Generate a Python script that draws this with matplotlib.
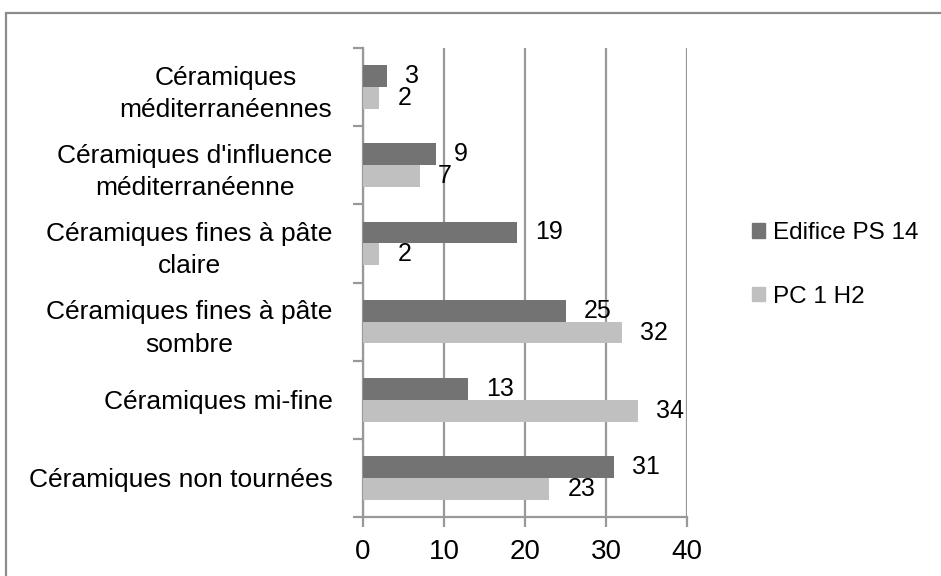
import numpy as np
import matplotlib.pyplot as plt
from matplotlib.patches import Rectangle, Patch

plt.rcParams['font.family'] = ['Liberation Sans', 'DejaVu Sans']

# categories listed bottom to top
categories = [
    "Céramiques non tournées",
    "Céramiques mi-fine",
    "Céramiques fines à pâte\nsombre",
    "Céramiques fines à pâte\nclaire",
    "Céramiques d'influence\nméditerranéenne",
    "Céramiques\nméditerranéennes",
]
edifice_ps14 = [31, 13, 25, 19, 9, 3]
pc1_h2 = [23, 34, 32, 2, 7, 2]
series_names = ["Edifice PS 14", "PC 1 H2"]

dark = '#737373'
light = '#c0c0c0'
line_gray = '#999999'

fig = plt.figure(figsize=(9.41, 5.76), dpi=100)
ax = fig.add_axes([363 / 941, 59 / 576, 324 / 941, 469 / 576])

y = np.arange(len(categories))
h = 0.28
b1 = ax.barh(y + h / 2, edifice_ps14, height=h, color=dark, zorder=3)
b2 = ax.barh(y - h / 2, pc1_h2, height=h, color=light, zorder=3)
ax.bar_label(b1, padding=13, fontsize=18)
ax.bar_label(b2, padding=13, fontsize=18)

ax.set_xlim(0, 40)
ax.set_ylim(-0.5, len(categories) - 0.5)
ax.set_xticks([0, 10, 20, 30, 40])
ax.grid(axis='x', color=line_gray, lw=1.6, zorder=0)

# labels at category centres, tick marks at the boundaries
ax.set_yticks(y)
ax.set_yticklabels(categories, fontsize=19, multialignment='center',
                   linespacing=1.45)
ax.set_yticks(np.arange(-0.5, len(categories)), minor=True)
ax.tick_params(axis='y', which='major', length=0, pad=22)
ax.tick_params(axis='y', which='minor', length=7, width=1.6, color=line_gray)
ax.tick_params(axis='x', length=7, width=1.6, color=line_gray, labelsize=20, pad=9)

for side in ['top', 'right']:
    ax.spines[side].set_visible(False)
for side in ['left', 'bottom']:
    ax.spines[side].set_color(line_gray)
    ax.spines[side].set_linewidth(1.6)

handles = [Patch(color=dark), Patch(color=light)]
fig.legend(handles, series_names, loc='center left',
           bbox_to_anchor=(752 / 941, 1 - 265 / 576), frameon=False,
           fontsize=17.5, handlelength=0.55, handleheight=0.55,
           handletextpad=0.3, labelspacing=1.7, borderpad=0, borderaxespad=0)

# outer chart border
fig.patches.append(Rectangle((6 / 941, -0.1), 1.2, 1.1 - 13 / 576,
                             transform=fig.transFigure, fill=False,
                             edgecolor='#8c8c8c', lw=1.6))

fig.savefig('out.png', dpi=100)
